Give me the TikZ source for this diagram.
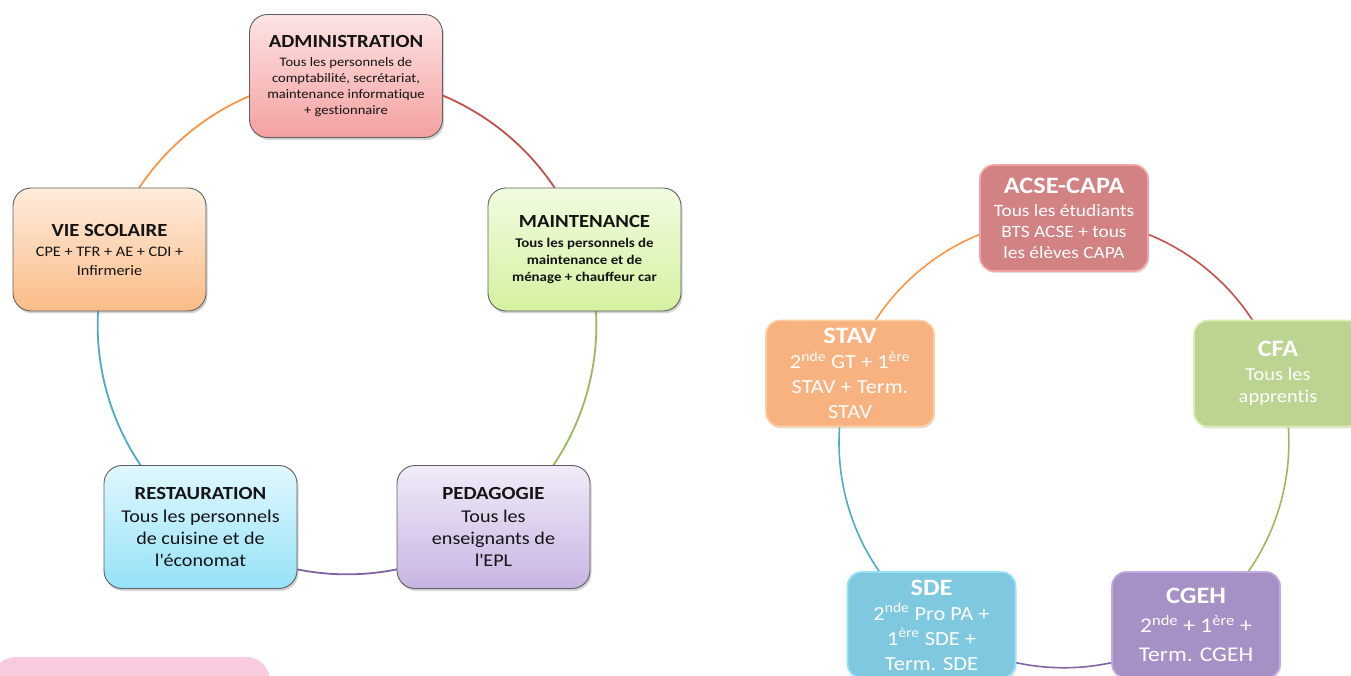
\documentclass[tikz,border=0pt]{standalone}
\usepackage{fontspec}
\setmainfont{Carlito}[FakeStretch=1.12]
\usetikzlibrary{shadows}
\pgfdeclarelayer{bg}
\pgfsetlayers{bg,main}
\definecolor{admT}{RGB}{253,228,228}\definecolor{admB}{RGB}{244,160,160}
\definecolor{maiT}{RGB}{241,252,224}\definecolor{maiB}{RGB}{212,241,160}
\definecolor{pedT}{RGB}{241,235,248}\definecolor{pedB}{RGB}{200,180,226}
\definecolor{resT}{RGB}{224,247,253}\definecolor{resB}{RGB}{150,226,248}
\definecolor{vieT}{RGB}{254,236,220}\definecolor{vieB}{RGB}{250,188,136}
\definecolor{lborder}{RGB}{95,95,95}
\definecolor{acseM}{RGB}{210,130,130}\definecolor{acseE}{RGB}{242,164,164}
\definecolor{cfaM}{RGB}{188,212,146}\definecolor{cfaE}{RGB}{218,238,176}
\definecolor{stavM}{RGB}{248,178,128}\definecolor{stavE}{RGB}{253,206,160}
\definecolor{sdeM}{RGB}{126,200,224}\definecolor{sdeE}{RGB}{152,226,250}
\definecolor{cgehM}{RGB}{166,144,198}\definecolor{cgehE}{RGB}{192,172,226}
\definecolor{cRed}{RGB}{192,80,77}\definecolor{cGreen}{RGB}{155,187,89}
\definecolor{cPurple}{RGB}{128,100,162}\definecolor{cBlue}{RGB}{75,172,198}
\definecolor{cOrange}{RGB}{247,150,70}
\definecolor{pinkbox}{RGB}{250,202,222}
\newcommand\ltitle[1]{{\fontsize{18.5}{22}\selectfont\bfseries #1}}
\newcommand\rtitle[1]{{\fontsize{23.5}{27}\selectfont\bfseries #1}}
\newcommand\sups[1]{\textsuperscript{#1}}
\newcommand\tiX{t\kern0pt i}
\begin{document}
\begin{tikzpicture}[x=1pt,y=1pt,
  lbox/.style={rounded corners=18pt, draw=lborder, line width=0.9pt,
    minimum width=193pt, minimum height=123pt, inner sep=0pt, align=center,
    text={rgb,255:red,20;green,20;blue,20},
    drop shadow={shadow xshift=1.5pt, shadow yshift=-2.5pt, opacity=0.35}},
  rbox/.style={rounded corners=14pt, line width=1.6pt,
    minimum width=168pt, minimum height=106pt, inner sep=0pt, align=center,
    text=white,
    drop shadow={shadow xshift=1pt, shadow yshift=-2pt, opacity=0.25}},
  arcl/.style={line width=1.8pt, bend left=36, looseness=0.94},
  arcr/.style={line width=1.6pt, bend left=36, looseness=0.94}]
\useasboundingbox (0,0) rectangle (1351,675);

% pink shape at bottom left
\fill[pinkbox, rounded corners=24pt] (-8,-40) rectangle (270,18);

% left cycle
\node[lbox, top color=admT, bottom color=admB, font=\fontsize{13}{16}\selectfont]
  (adm) at (346,599) {\ltitle{ADMINISTRATION}\\[3pt] Tous les personnels de\\ comptabilité, secrétariat,\\ maintenance informa\tiX que\\ + ges\tiX onnaire};
\node[lbox, top color=maiT, bottom color=maiB, font=\fontsize{13.3}{17}\selectfont\bfseries]
  (mai) at (584.5,425.5) {\ltitle{MAINTENANCE}\\[3pt] Tous les personnels de\\ maintenance et de\\ ménage + chauffeur car};
\node[lbox, top color=pedT, bottom color=pedB, font=\fontsize{18}{22}\selectfont]
  (ped) at (493.5,148) {\ltitle{PEDAGOGIE}\\[1pt] Tous les\\ enseignants de\\ l\textquotesingle EPL};
\node[lbox, top color=resT, bottom color=resB, font=\fontsize{18}{22}\selectfont]
  (res) at (200.5,148) {\ltitle{RESTAURATION}\\[1pt] Tous les personnels\\ de cuisine et de\\ l\textquotesingle économat};
\node[lbox, top color=vieT, bottom color=vieB, font=\fontsize{14.5}{19}\selectfont]
  (vie) at (109.5,425.5) {\ltitle{VIE SCOLAIRE}\\[1pt] CPE + TFR + AE + CDI +\\ Infirmerie};

% right cycle
\node[rbox, fill=acseM, draw=acseE, font=\fontsize{17.3}{21}\selectfont]
  (acse) at (1064,457) {\rtitle{ACSE-CAPA}\\[2pt] Tous les étudiants\\ BTS ACSE + tous\\ les élèves CAPA};
\node[rbox, fill=cfaM, draw=cfaE, font=\fontsize{18.3}{22}\selectfont]
  (cfa) at (1278,301.5) {\rtitle{CFA}\\[2pt] Tous les\\ appren\tiX s};
\node[rbox, fill=cgehM, draw=cgehE, font=\fontsize{21}{29}\selectfont]
  (cgeh) at (1196,50) {\rtitle{CGEH}\\ 2\sups{nde} + 1\sups{ère} +\\ Term. CGEH};
\node[rbox, fill=sdeM, draw=sdeE, font=\fontsize{20}{25}\selectfont]
  (sde) at (931.5,50) {\rtitle{SDE}\\ 2\sups{nde} Pro PA +\\ 1\sups{ère} SDE +\\ Term. SDE};
\node[rbox, fill=stavM, draw=stavE, font=\fontsize{20}{25}\selectfont]
  (stav) at (850,301.5) {\rtitle{STAV}\\ 2\sups{nde} GT + 1\sups{ère}\\ STAV + Term.\\ STAV};

\begin{pgfonlayer}{bg}
  \draw[arcl, cRed]    (adm.center) to (mai.center);
  \draw[arcl, cGreen]  (mai.center) to (ped.center);
  \draw[arcl, cPurple] (ped.center) to (res.center);
  \draw[arcl, cBlue]   (res.center) to (vie.center);
  \draw[arcl, cOrange] (vie.center) to (adm.center);
  \draw[arcr, cRed]    (acse.center) to (cfa.center);
  \draw[arcr, cGreen]  (cfa.center) to (cgeh.center);
  \draw[arcr, cPurple] (cgeh.center) to (sde.center);
  \draw[arcr, cBlue]   (sde.center) to (stav.center);
  \draw[arcr, cOrange] (stav.center) to (acse.center);
\end{pgfonlayer}
\end{tikzpicture}
\end{document}
